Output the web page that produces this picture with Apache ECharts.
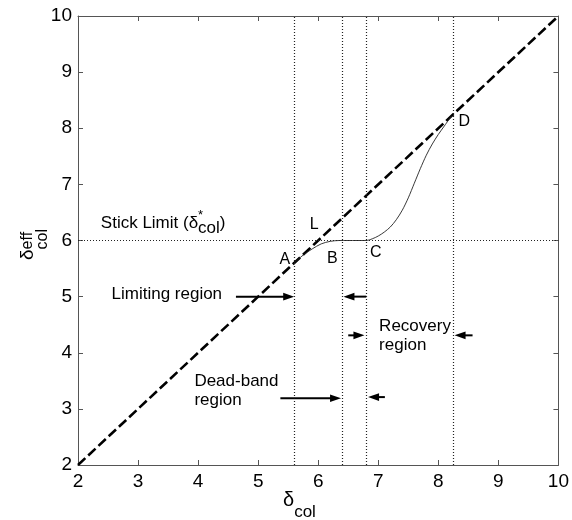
<!DOCTYPE html>
<html><head><meta charset="utf-8">
<script src="https://cdn.jsdelivr.net/npm/echarts@6/dist/echarts.min.js"></script>
<style>html,body{margin:0;padding:0;background:#fff}#c{width:572px;height:520px}</style>
</head><body><div id="c"></div>
<script>
// ---------- data ----------
const xRange = [2, 10];
const yRange = [2, 10];
const tickStep = 1;
const diagonalX = [2, 10];
const diagonalY = [2, 10];
const responseX = [5.6, 5.75, 5.9, 6.05, 6.2, 6.35, 6.5, 6.8, 6.9, 7.0, 7.1, 7.2, 7.3, 7.4, 7.5, 7.6, 7.7, 7.8, 7.9, 8.0, 8.1, 8.22];
const responseY = [5.6, 5.74, 5.85, 5.94, 5.985, 6.0, 6.0, 6.0, 6.03, 6.08, 6.15, 6.24, 6.37, 6.54, 6.76, 7.02, 7.28, 7.52, 7.72, 7.89, 8.04, 8.22];
const boundaryX = [5.6, 6.4, 6.8, 8.25];
const stickLimitY = [6];
const arrowFromX = [4.63, 6.8, 6.5, 8.57, 5.37, 7.11];
const arrowFromY = [5.0, 5.0, 4.31, 4.31, 3.19, 3.21];
const arrowToX = [5.6, 6.42, 6.77, 8.27, 6.38, 6.83];
const arrowToY = [5.0, 5.0, 4.31, 4.31, 3.19, 3.21];
const labelText = ['A', 'B', 'C', 'D', 'L', 'Limiting region', 'Recovery\nregion', 'Dead-band\nregion', 'Stick Limit (δ^{*}_{col})'];
const labelX = [5.357, 6.146, 6.864, 8.338, 5.859, 2.558, 7.014, 3.938, 2.38];
const labelY = [5.563, 5.581, 5.683, 8.017, 6.175, 4.927, 4.357, 3.384, 6.205];
const xTitle = 'δ_{col}';
const yTitle = 'δ^{eff}_{col}';

// ---------- rendering ----------
const FONT = '"Liberation Sans", Arial, Helvetica, sans-serif';
const mctx = document.createElement('canvas').getContext('2d');
function tw(t, s) { mctx.font = s + 'px ' + FONT; return mctx.measureText(t).width; }
function parseMarkup(str) {
  const out = []; const re = /(\^\{([^}]*)\})|(_\{([^}]*)\})|([^^_]+)/g; let m;
  while ((m = re.exec(str))) {
    if (m[2] !== undefined) out.push({ k: 'sup', t: m[2] });
    else if (m[4] !== undefined) out.push({ k: 'sub', t: m[4] });
    else out.push({ k: 'n', t: m[5] });
  }
  return out;
}
function layoutText(str, o) {
  const kids = [];
  str.split('\n').forEach((line, li) => {
    const base = li * (o.lineGap || 0);
    let x = 0, prev = null;
    parseMarkup(line).forEach(tok => {
      let s = o.size, dy = 0, sx = x;
      if (tok.k === 'sup') { s = o.supSize; dy = o.supDy; }
      else if (tok.k === 'sub') { s = o.subSize; dy = o.subDy; }
      const w = tw(tok.t, s);
      if (tok.k === 'sub' && prev && prev.k === 'sup') {
        sx = prev.sx; x = sx + Math.max(prev.w, w);
      } else { x = sx + w; }
      prev = { k: tok.k, sx: sx, w: w };
      kids.push({
        type: 'text', silent: true,
        style: { text: tok.t, x: sx, y: base + dy - 0.35 * s, font: s + 'px ' + FONT,
                 fill: '#000', align: 'left', verticalAlign: 'middle' }
      });
    });
  });
  return kids;
}
function labelStyle(i) {
  const t = labelText[i];
  if (t.length === 1) return { size: 16 };
  if (t.indexOf('Stick') === 0) return { size: 17, supSize: 13, subSize: 17, supDy: -9, subDy: 5 };
  return { size: 17, lineGap: 18.5 };
}

const axisCol = '#555';
function baseX(pos, labels) {
  return {
    type: 'value', position: pos, min: xRange[0], max: xRange[1], interval: tickStep,
    axisLine: { show: true, onZero: false, lineStyle: { color: axisCol, width: 1 } },
    axisTick: { show: true, inside: true, length: 5, lineStyle: { color: axisCol } },
    axisLabel: { show: labels, color: '#000', fontSize: 19, fontFamily: FONT, margin: 7 },
    splitLine: { show: false }
  };
}
function baseY(pos, labels) {
  return {
    type: 'value', position: pos, min: yRange[0], max: yRange[1], interval: tickStep,
    axisLine: { show: true, onZero: false, lineStyle: { color: axisCol, width: 1 } },
    axisTick: { show: true, inside: true, length: 5, lineStyle: { color: axisCol } },
    axisLabel: { show: labels, color: '#000', fontSize: 19, fontFamily: FONT, margin: 6 },
    splitLine: { show: false }
  };
}

const chart = echarts.init(document.getElementById('c'), null, { renderer: 'canvas' });
const dotted = { type: [1, 2], color: '#222', width: 1.2 };
chart.setOption({
  animation: false,
  backgroundColor: '#fff',
  grid: { left: 78, right: 11, top: 16, bottom: 55, containLabel: false },
  xAxis: [baseX('bottom', true), baseX('top', false)],
  yAxis: [baseY('left', true), baseY('right', false)],
  series: [
    {
      type: 'line', name: 'guides', data: [], symbol: 'none', silent: true, z: 1,
      markLine: {
        silent: true, symbol: ['none', 'none'], label: { show: false }, animation: false,
        lineStyle: dotted, emphasis: { disabled: true },
        data: boundaryX.map(v => ({ xAxis: v })).concat(stickLimitY.map(v => ({ yAxis: v })))
      }
    },
    {
      type: 'line', name: 'ideal', z: 3, symbol: 'none', silent: true,
      data: diagonalX.map((x, i) => [x, diagonalY[i]]),
      lineStyle: { color: '#000', width: 2.6, type: [10, 4] }
    },
    {
      type: 'line', name: 'response', z: 4, symbol: 'none', silent: true,
      smooth: 0.3,
      data: responseX.map((x, i) => [x, responseY[i]]),
      lineStyle: { color: '#222', width: 0.9 }
    },
    {
      type: 'custom', name: 'arrows', z: 5, silent: true, clip: false,
      data: arrowFromX.map((x, i) => [x, arrowFromY[i], arrowToX[i], arrowToY[i]]),
      encode: { x: [0, 2], y: [1, 3] },
      renderItem: function (params, api) {
        const p0 = api.coord([api.value(0), api.value(1)]);
        const p1 = api.coord([api.value(2), api.value(3)]);
        const dx = p1[0] - p0[0], dy = p1[1] - p0[1];
        const len = Math.hypot(dx, dy) || 1;
        const ux = dx / len, uy = dy / len;
        const hl = Math.min(11, len * 0.75), hw = 3.8;
        const bx = p1[0] - ux * hl, by = p1[1] - uy * hl;
        return {
          type: 'group', children: [
            { type: 'line', shape: { x1: p0[0], y1: p0[1], x2: bx + ux, y2: by + uy }, style: { stroke: '#000', lineWidth: 2 } },
            { type: 'polygon', shape: { points: [[p1[0], p1[1]], [bx - uy * hw, by + ux * hw], [bx + uy * hw, by - ux * hw]] }, style: { fill: '#000' } }
          ]
        };
      }
    },
    {
      type: 'custom', name: 'labels', z: 6, silent: true, clip: false,
      data: labelX.map((x, i) => [x, labelY[i], i]),
      encode: { x: 0, y: 1 },
      renderItem: function (params, api) {
        const i = api.value(2);
        const p = api.coord([api.value(0), api.value(1)]);
        return { type: 'group', x: p[0], y: p[1], children: layoutText(labelText[i], labelStyle(i)) };
      }
    }
  ],
  graphic: [
    { type: 'group', x: 283, y: 507, silent: true,
      children: layoutText(xTitle, { size: 20, subSize: 17, subDy: 11 }) },
    { type: 'group', x: 34, y: 260, rotation: Math.PI / 2, silent: true,
      children: layoutText(yTitle, { size: 19, supSize: 16, subSize: 16, supDy: -1, subDy: 14 }) }
  ]
});
</script>
</body></html>
